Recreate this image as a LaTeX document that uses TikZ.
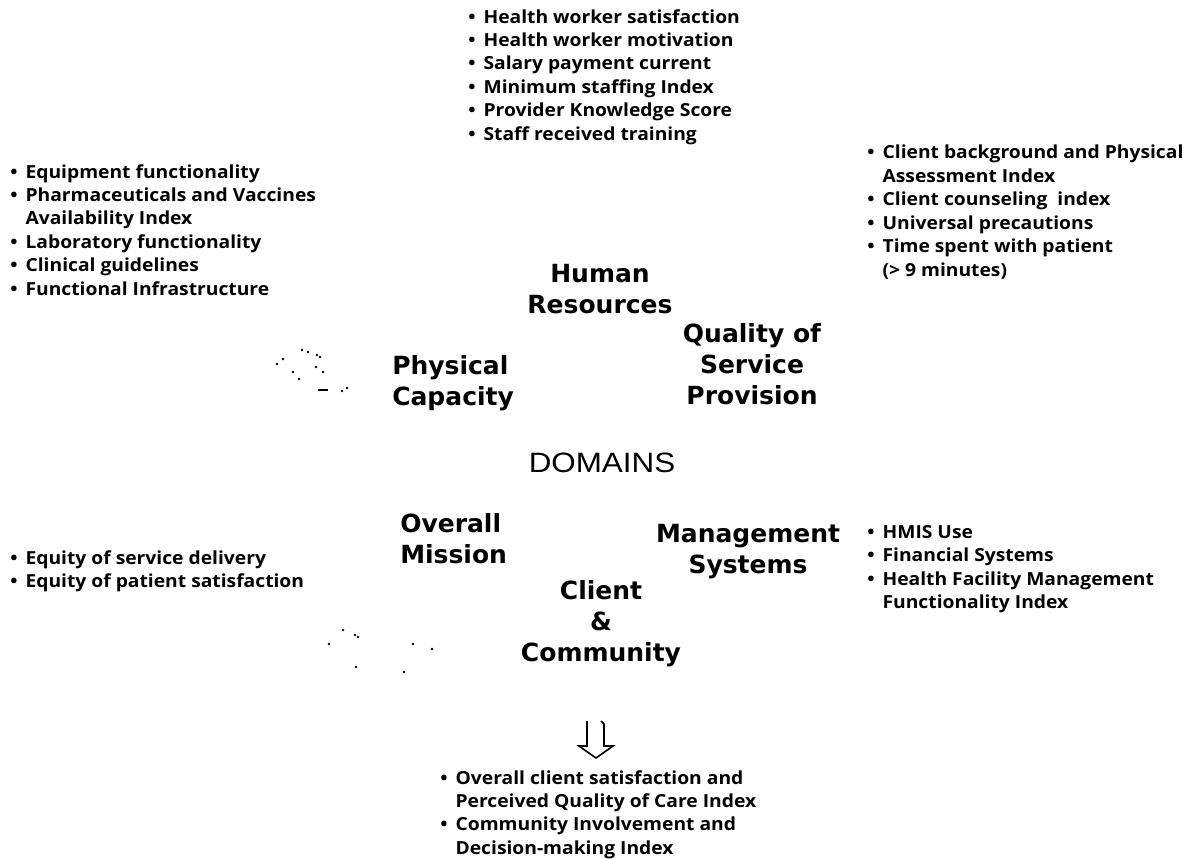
\documentclass[tikz,border=0pt]{standalone}
\usepackage{fontspec}
\setmainfont{Open Sans}
\newfontfamily\listfont[FakeStretch=1.07]{Open Sans}
\newfontfamily\domfont{DejaVu Sans}
\newfontfamily\capsfont[FakeStretch=1.12]{Liberation Sans}
% bullet and hanging indent for the indicator lists
\newcommand\bl{\makebox[11.5pt][l]{•}}
\newcommand\ind{\hspace*{11.5pt}}
\tikzset{
  indlist/.style={anchor=north west, inner sep=0pt, align=left,
    font=\listfont\bfseries\fontsize{13.5}{17.6}\selectfont},
  domlabel/.style={inner sep=0pt,
    font=\domfont\bfseries\fontsize{18.75}{23.25}\selectfont},
  speck/.style={fill=black, draw=none}
}
\begin{document}
\begin{tikzpicture}[x=0.75pt,y=-0.75pt]
\useasboundingbox (0,0) rectangle (1194,858);
\fill[white] (0,0) rectangle (1194,858);

% indicator lists
\node[indlist] (hrlist) at (468,9) {\bl Health worker satisfaction\\ \bl Health worker motivation\\ \bl Salary payment current\\ \bl Minimum staffing Index\\ \bl Provider Knowledge Score\\ \bl Staff received training};
\node[indlist] (pclist) at (10,164) {\bl Equipment functionality\\ \bl Pharmaceuticals and Vaccines\\ \ind Availability Index\\ \bl Laboratory functionality\\ \bl Clinical guidelines\\ \bl Functional Infrastructure};
\node[indlist] (qslist) at (867,145) {\bl Client background and Physical\\ \ind Assessment Index\\ \bl Client counseling\ \ index\\ \bl Universal precautions\\ \bl Time spent with patient\\ \ind (> 9 minutes)};
\node[indlist] (omlist) at (10,550) {\bl Equity of service delivery\\ \bl Equity of patient satisfaction};
\node[indlist] (mslist) at (867,525) {\bl HMIS Use\\ \bl Financial Systems\\ \bl Health Facility Management\\ \ind Functionality Index};
\node[indlist] (cclist) at (440,770) {\bl Overall client satisfaction and\\ \ind Perceived Quality of Care Index\\ \bl Community Involvement and\\ \ind Decision-making Index};

% domain labels
\node[domlabel, anchor=north, align=center] (hr) at (600,264) {Human\\Resources};
\node[domlabel, anchor=north, align=center] (qs) at (752,323) {Quality of\\Service\\Provision};
\node[domlabel, anchor=north west, align=left] (pc) at (392,355) {Physical\\Capacity};
\node[inner sep=0pt, font=\capsfont\fontsize{21}{25}\selectfont] (dom) at (602,463) {DOMAINS};
\node[domlabel, anchor=north west, align=left] (om) at (400,513) {Overall\\Mission};
\node[domlabel, anchor=north, align=center] (ms) at (748,524) {Management\\Systems};
\node[domlabel, anchor=north, align=center] (cc) at (601,580) {Client\\\&\\Community};

% hollow down arrow towards the client list
\draw[line width=1.2pt, line join=miter] (587,721) -- (587,746) -- (579,746) -- (596,758) -- (613,746) -- (604,746) -- (604,724) -- (601,721);

% faint specks
\foreach \p in {(277,364),(283,359),(302,350),(308,352),(317,355),(320,357),(293,372),(299,379),(316,367),(323,372),(342,391),(347,388),
                (343,630),(355,635),(358,637),(329,644),(356,667),(413,644),(432,649),(404,672)}
  \fill[speck] \p circle (1.3);
\draw[line width=1pt] (318,390) -- (328,390);
\end{tikzpicture}
\end{document}
